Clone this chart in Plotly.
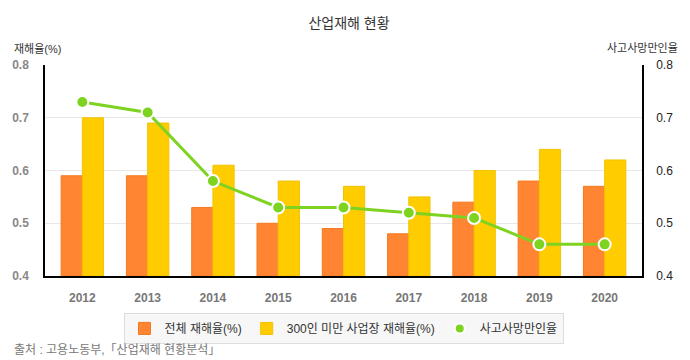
import plotly.graph_objects as go

years = ["2012", "2013", "2014", "2015", "2016", "2017", "2018", "2019", "2020"]
total_rate = [0.59, 0.59, 0.53, 0.50, 0.49, 0.48, 0.54, 0.58, 0.57]
small_rate = [0.70, 0.69, 0.61, 0.58, 0.57, 0.55, 0.60, 0.64, 0.62]
death_rate = [0.73, 0.71, 0.58, 0.53, 0.53, 0.52, 0.51, 0.46, 0.46]

FONT = "Liberation Sans, Arial, Noto Sans CJK KR, sans-serif"
GREEN = "#7ed321"

fig = go.Figure()
fig.add_trace(go.Bar(
    x=years, y=[v - 0.4 for v in total_rate], base=0.4, name="전체 재해율(%)",
    marker=dict(color="#ff8533", line=dict(color="#f47a20", width=1)),
))
fig.add_trace(go.Bar(
    x=years, y=[v - 0.4 for v in small_rate], base=0.4, name="300인 미만 사업장 재해율(%)",
    marker=dict(color="#ffcc00", line=dict(color="#f2c200", width=1)),
))
fig.add_trace(go.Scatter(
    x=years, y=death_rate, name="사고사망만인율", yaxis="y2", mode="lines+markers",
    line=dict(color=GREEN, width=3), showlegend=False,
    marker=dict(color=GREEN, size=12, line=dict(color="white", width=2)),
))
# legend entry for the line series (dot only, as in the reference)
fig.add_trace(go.Scatter(
    x=[None], y=[None], name="사고사망만인율", yaxis="y2", mode="markers",
    marker=dict(color=GREEN, size=10, line=dict(color="white", width=2)),
))

fig.update_layout(
    width=682, height=352,
    margin=dict(l=37, r=48, t=57, b=84, autoexpand=False),
    paper_bgcolor="white", plot_bgcolor="white",
    font=dict(family=FONT, size=12, color="#333"),
    title=dict(text="산업재해 현황", x=0.5, xanchor="center", y=0.957, yanchor="middle",
               font=dict(size=14, color="#333")),
    barmode="group", bargap=0.35, bargroupgap=0,
    showlegend=True,
    legend=dict(orientation="h", x=0.5, xanchor="center", y=-0.175, yanchor="top",
                bgcolor="#f7f7f7", bordercolor="#dddddd", borderwidth=1,
                font=dict(size=12, color="#333"), traceorder="normal", itemwidth=30),
    xaxis=dict(showline=True, linecolor="black", linewidth=1.5, ticks="", automargin=False,
               tickfont=dict(size=12, color="#777", family=FONT, weight="bold"),
               showgrid=False, mirror=False, ticklabelstandoff=10),
    yaxis=dict(range=[0.4, 0.8], dtick=0.1, tickformat=".1f", showline=True, linecolor="black",
               linewidth=1.5, gridcolor="#e8e8e8", zeroline=False, automargin=False,
               tickfont=dict(size=12, color="#888", weight="bold"), ticks="", ticklabelstandoff=12),
    yaxis2=dict(range=[0.4, 0.8], dtick=0.1, tickformat=".1f", overlaying="y", side="right",
                showline=True, linecolor="black", linewidth=1.5, showgrid=False, zeroline=False,
                automargin=False,
                tickfont=dict(size=12, color="#222"), ticks="", ticklabelstandoff=10),
    annotations=[
        dict(text="재해율(%)", xref="paper", yref="paper", x=-0.055, y=1.08, xanchor="left",
             yanchor="middle", showarrow=False, font=dict(size=11, color="#333")),
        dict(text="사고사망만인율", xref="paper", yref="paper", x=1.064, y=1.08, xanchor="right",
             yanchor="middle", showarrow=False, font=dict(size=11, color="#333")),
        dict(text="출처 : 고용노동부,「산업재해 현황분석」", xref="paper", yref="paper",
             x=-0.055, y=-0.351, xanchor="left", yanchor="middle", showarrow=False,
             font=dict(size=12, color="#777")),
    ],
)

fig.write_html("out.html")
